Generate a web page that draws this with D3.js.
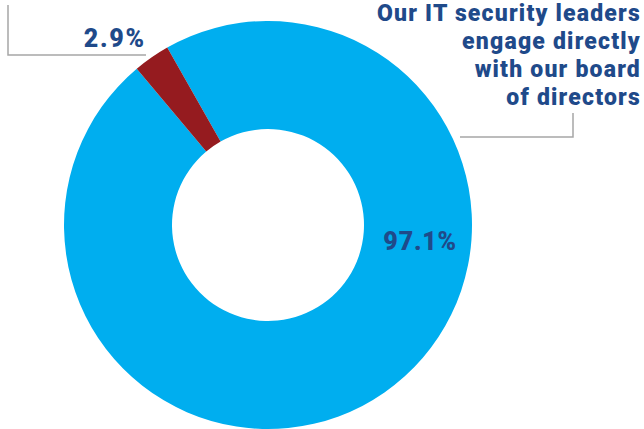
<!DOCTYPE html>
<html>
<head>
<meta charset="utf-8">
<script src="https://cdn.jsdelivr.net/npm/d3@7"></script>
<style>
  body { margin: 0; background: #fff; }
  text { font-family: Roboto, sans-serif; font-weight: 900; fill: #1f4a8a; }
</style>
</head>
<body>
<svg width="644" height="429"></svg>
<script>
var labels = ["Our IT security leaders engage directly with our board of directors", "Other"];
var values = [97.1, 2.9];
var colors = ["#00aeef", "#951b1f"];
var titleLines = ["Our IT security leaders", "engage directly", "with our board", "of directors"];

var svg = d3.select("svg"),
    cx = 268, cy = 225,
    outer = 204, inner = 96,
    g = svg.append("g").attr("transform", "translate(" + cx + "," + cy + ")");

var start = -29.6 * Math.PI / 180;

var pie = d3.pie()
    .sort(null)
    .value(function(d) { return d; })
    .startAngle(start)
    .endAngle(start + 2 * Math.PI);

var arc = d3.arc().innerRadius(inner).outerRadius(outer);

var arcs = pie(values);

g.selectAll("path.slice")
    .data(arcs)
    .enter().append("path")
    .attr("class", "slice")
    .attr("d", arc)
    .attr("fill", function(d, i) { return colors[i]; });

// value label inside the big slice
var a = 96 * Math.PI / 180;
g.append("text")
    .attr("x", Math.sin(a) * 153)
    .attr("y", -Math.cos(a) * 153)
    .attr("dy", "0.35em")
    .attr("text-anchor", "middle")
    .style("font-size", "25px")
    .style("letter-spacing", "0.8px")
    .text(values[0].toFixed(1) + "%");

// small slice label with leader line (top left)
svg.append("path")
    .attr("d", "M8,5V55H146")
    .attr("fill", "none")
    .attr("stroke", "#a6a6a6")
    .attr("stroke-width", 1.5);

svg.append("text")
    .attr("x", 146)
    .attr("y", 47)
    .attr("text-anchor", "end")
    .style("font-size", "25px")
    .style("letter-spacing", "1.8px")
    .text(values[1].toFixed(1) + "%");

// category label (top right)
svg.append("path")
    .attr("d", "M573,113V137H460")
    .attr("fill", "none")
    .attr("stroke", "#a6a6a6")
    .attr("stroke-width", 1.5);

svg.append("g").selectAll("text")
    .data(titleLines)
    .enter().append("text")
    .attr("x", 641)
    .attr("y", function(d, i) { return 21 + i * 28; })
    .attr("text-anchor", "end")
    .style("font-size", "23px")
    .style("letter-spacing", "1.2px")
    .text(function(d) { return d; });
</script>
</body>
</html>
